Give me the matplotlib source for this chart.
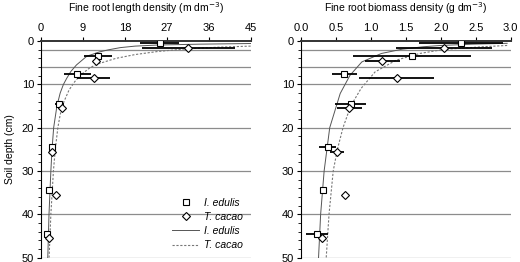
import numpy as np
import matplotlib
matplotlib.use("Agg")
import matplotlib.pyplot as plt
from matplotlib.lines import Line2D

plt.rcParams.update({
    "font.family": ["Liberation Sans", "DejaVu Sans"],
    "font.size": 7.5,
    "axes.linewidth": 0.8,
    "xtick.direction": "out",
    "ytick.direction": "out",
    "xtick.major.size": 3,
    "ytick.major.size": 3,
    "ytick.minor.size": 2,
})

# --------------- DATA -------------------------------------------------------
depth_ie = [0.5, 3.5, 7.5, 14.5, 24.5, 34.5, 44.5]
depth_tc = [1.5, 4.5, 8.5, 15.5, 25.5, 35.5, 45.5]

len_ie = [25.5, 12.3, 7.8, 3.9, 2.4, 1.7, 1.2]
len_ie_err = [4.2, 3.0, 2.9, 1.0, 0.6, 0.3, 0.4]
len_tc = [31.6, 11.9, 11.3, 4.4, 2.3, 3.2, 1.6]
len_tc_err = [10.0, 0.8, 3.6, 0.8, 0.5, 0.0, 0.3]

bio_ie = [2.29, 1.59, 0.62, 0.71, 0.38, 0.31, 0.23]
bio_ie_err = [0.60, 0.84, 0.18, 0.22, 0.12, 0.0, 0.16]
bio_tc = [2.05, 1.16, 1.37, 0.69, 0.51, 0.63, 0.30]
bio_tc_err = [0.69, 0.25, 0.54, 0.18, 0.10, 0.0, 0.05]

# fitted curves
len_fit_ie_d = [0.55, 0.7, 0.9, 1.15, 1.5, 2, 2.5, 3.5, 4.5, 5.5, 7, 8.6, 10, 12, 15, 20, 25, 30, 40, 50]
len_fit_ie_x = [45, 34, 25, 20.2, 17, 14.5, 12.5, 9.8, 8.7, 7.6, 6.4, 5.5, 4.8, 4.1, 3.4, 2.7, 2.35, 2.1, 1.7, 1.44]
len_fit_tc_d = [1.15, 1.4, 1.8, 2.4, 3.1, 4, 5.4, 6.3, 8, 9.4, 11.3, 14, 17, 20, 25, 30, 40, 50]
len_fit_tc_x = [45, 38, 31, 25, 20.2, 16, 11.8, 10.3, 8.3, 7.2, 6.0, 4.9, 4.1, 3.6, 3.05, 2.65, 2.1, 1.72]

bio_fit_ie_d = [0.5, 0.7, 1.0, 1.3, 1.85, 2.85, 4.8, 7.9, 12.1, 20, 30, 40, 50]
bio_fit_ie_x = [2.95, 2.45, 2.0, 1.75, 1.45, 1.15, 0.87, 0.70, 0.56, 0.41, 0.33, 0.28, 0.25]
bio_fit_tc_d = [1.0, 1.3, 1.9, 2.85, 4.4, 7.1, 10.9, 15, 20, 25, 30, 40, 50]
bio_fit_tc_x = [2.95, 2.6, 2.05, 1.70, 1.36, 1.06, 0.86, 0.71, 0.60, 0.52, 0.46, 0.40, 0.36]

layers = [2, 6, 10, 20, 30, 40, 50]

# --------------- PLOT -------------------------------------------------------
fig = plt.figure(figsize=(5.2, 2.62), dpi=100)
ax1 = fig.add_axes([0.079, 0.017, 0.403, 0.826])
ax2 = fig.add_axes([0.579, 0.017, 0.403, 0.826])

dotted = (0, (2.0, 1.5))


def panel(ax, xie, eie, xtc, etc, fie, ftc, xmax, step, fmt, label):
    for d in layers:
        ax.axhline(d, color="#8c8c8c", lw=0.9, zorder=1)
    ax.plot(fie[1], fie[0], color="#555555", lw=0.7, zorder=2)
    ax.plot(ftc[1], ftc[0], color="#777777", lw=0.8, ls=dotted, zorder=2)
    ax.errorbar(xie, depth_ie, xerr=eie, fmt="none", ecolor="black", elinewidth=1.3, capsize=0, zorder=3)
    ax.errorbar(xtc, depth_tc, xerr=etc, fmt="none", ecolor="black", elinewidth=1.3, capsize=0, zorder=3)
    ax.plot(xie, depth_ie, "s", ms=5, mfc="white", mec="black", mew=0.8, ls="none", zorder=4)
    ax.plot(xtc, depth_tc, "D", ms=4, mfc="white", mec="black", mew=0.8, ls="none", zorder=4)

    ax.set_xlim(0, xmax)
    ax.set_ylim(50, 0)
    ax.xaxis.tick_top()
    ax.xaxis.set_label_position("top")
    ticks = np.arange(0, xmax + step / 2, step)
    ax.set_xticks(ticks)
    ax.set_xticklabels([fmt.format(v) for v in ticks])
    ax.set_yticks(range(0, 51, 10))
    ax.set_yticks(range(0, 51, 2), minor=True)
    ax.set_xlabel(label, labelpad=8)
    ax.tick_params(axis="x", pad=3, labelsize=8)
    ax.tick_params(axis="y", pad=2, labelsize=8)
    ax.spines["right"].set_visible(False)
    ax.spines["bottom"].set_visible(False)
    ax.spines["top"].set_linewidth(1.4)
    ax.spines["top"].set_color("#333333")


panel(ax1, len_ie, len_ie_err, len_tc, len_tc_err,
      (len_fit_ie_d, len_fit_ie_x), (len_fit_tc_d, len_fit_tc_x),
      45, 9, "{:.0f}", "Fine root length density (m dm$^{-3}$)")
panel(ax2, bio_ie, bio_ie_err, bio_tc, bio_tc_err,
      (bio_fit_ie_d, bio_fit_ie_x), (bio_fit_tc_d, bio_fit_tc_x),
      3.0, 0.5, "{:.1f}", "Fine root biomass density (g dm$^{-3}$)")

ax1.set_ylabel("Soil depth (cm)", labelpad=5)

handles = [
    Line2D([], [], marker="s", ms=5, mfc="white", mec="black", mew=0.8, ls="none"),
    Line2D([], [], marker="D", ms=4, mfc="white", mec="black", mew=0.8, ls="none"),
    Line2D([], [], color="#555555", lw=0.7),
    Line2D([], [], color="#777777", lw=0.8, ls=dotted),
]
labels = ["I. edulis", "T. cacao", "I. edulis", "T. cacao"]
leg = ax1.legend(handles, labels, loc="lower right", bbox_to_anchor=(1.0, 0.0),
                 frameon=False, handlelength=2.6, handletextpad=0.5,
                 labelspacing=0.4, borderaxespad=0.3, prop={"style": "italic", "size": 7.5})

fig.savefig("out.png", dpi=100)
